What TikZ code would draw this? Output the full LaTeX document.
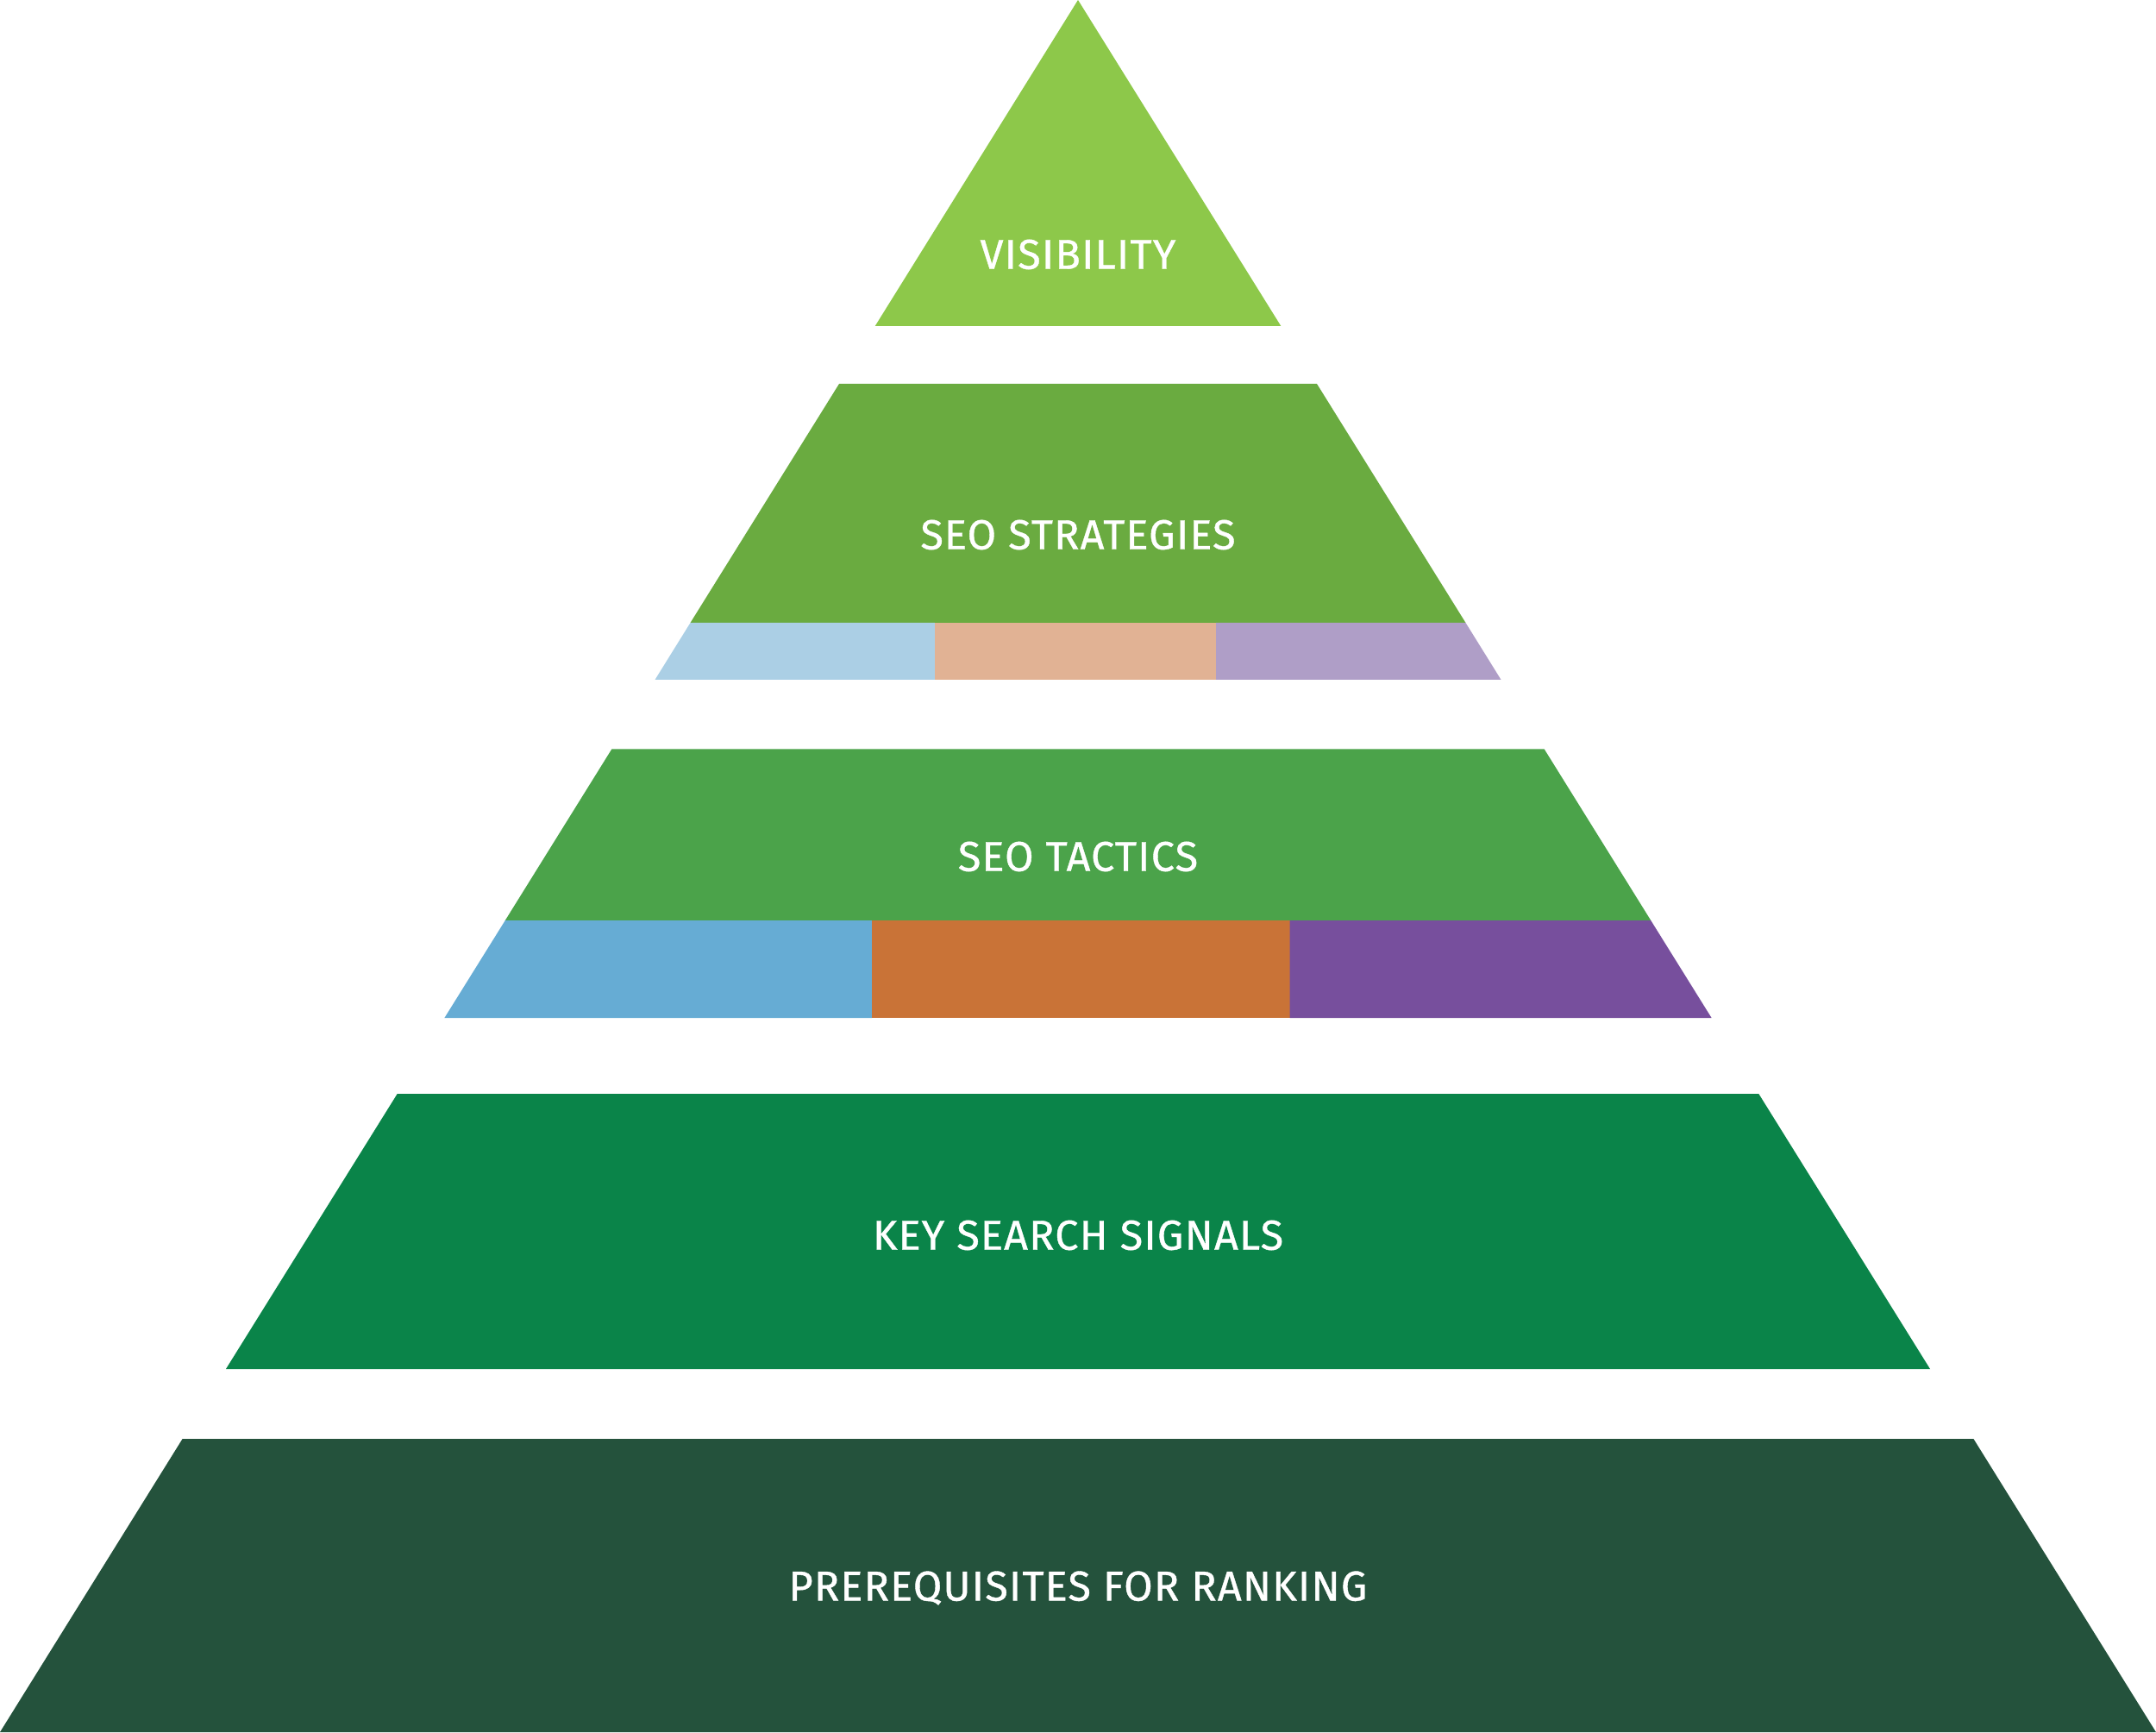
\documentclass[tikz,border=0pt]{standalone}
\usepackage{fontspec}
\newfontfamily\pyrfont[LetterSpace=2.5,FakeBold=0.8]{Fira Sans}
\usetikzlibrary{positioning}

\definecolor{visgreen}{HTML}{8DC84A}
\definecolor{stratgreen}{HTML}{6AAB40}
\definecolor{tactgreen}{HTML}{4BA34A}
\definecolor{signalgreen}{HTML}{0A8449}
\definecolor{prereqgreen}{HTML}{24523C}
\definecolor{paleblue}{HTML}{ABCFE5}
\definecolor{palepeach}{HTML}{E1B294}
\definecolor{palelilac}{HTML}{AF9EC7}
\definecolor{tactblue}{HTML}{66ACD4}
\definecolor{tactorange}{HTML}{C97337}
\definecolor{tactpurple}{HTML}{774F9D}

\begin{document}
\begin{tikzpicture}[label/.style={text=white,font=\pyrfont\fontsize{13.8}{16}\selectfont}]
\useasboundingbox (0,0) rectangle (25,20.08);
% top
\fill[visgreen] (12.5,20.08) -- (14.853,16.30) -- (10.147,16.30) -- cycle;
% strategies
\fill[stratgreen] (9.73,15.63) -- (15.27,15.63) -- (16.995,12.86) -- (8.005,12.86) -- cycle;
\fill[paleblue] (8.005,12.86) -- (10.84,12.86) -- (10.84,12.20) -- (7.595,12.20) -- cycle;
\fill[palepeach] (10.84,12.86) rectangle (14.10,12.20);
\fill[palelilac] (14.10,12.86) -- (16.995,12.86) -- (17.405,12.20) -- (14.10,12.20) -- cycle;
% tactics
\fill[tactgreen] (7.093,11.395) -- (17.907,11.395) -- (19.142,9.41) -- (5.858,9.41) -- cycle;
\fill[tactblue] (5.858,9.41) -- (10.11,9.41) -- (10.11,8.28) -- (5.154,8.28) -- cycle;
\fill[tactorange] (10.11,9.41) rectangle (14.955,8.28);
\fill[tactpurple] (14.955,9.41) -- (19.142,9.41) -- (19.846,8.28) -- (14.955,8.28) -- cycle;
% signals
\fill[signalgreen] (4.607,7.40) -- (20.393,7.40) -- (22.38,4.21) -- (2.62,4.21) -- cycle;
% base
\fill[prereqgreen] (2.116,3.40) -- (22.884,3.40) -- (25,0) -- (0,0) -- cycle;

\node[label] (vis) at (12.5,17.13) {VISIBILITY};
\node[label] (strat) at (12.5,13.88) {SEO STRATEGIES};
\node[label] (tact) at (12.5,10.15) {SEO TACTICS};
\node[label] (signals) at (12.5,5.76) {KEY SEARCH SIGNALS};
\node[label] (prereq) at (12.5,1.67) {PREREQUISITES FOR RANKING};
\end{tikzpicture}
\end{document}
